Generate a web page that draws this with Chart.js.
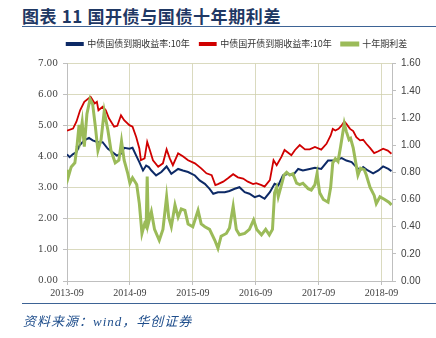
<!DOCTYPE html>
<html><head><meta charset="utf-8">
<script src="https://cdn.jsdelivr.net/npm/chart.js@4.4.1/dist/chart.umd.min.js"></script>
<style>
html,body{margin:0;padding:0;background:#fff;width:436px;height:338px;overflow:hidden;position:relative}
#title{position:absolute;left:22px;top:3px;font:bold 17px "Noto Sans CJK SC",sans-serif;color:#1f3864;white-space:nowrap;letter-spacing:0.6px}
#tline{position:absolute;left:22px;right:0;top:26px;border-top:1.5px solid #3d6395}
#fline{position:absolute;left:22px;right:0;top:303px;border-top:1.5px solid #3d6395}
#src{position:absolute;left:23px;top:311px;font:italic 13px "Liberation Serif","Noto Sans CJK SC",serif;color:#1f4e8c;white-space:nowrap;letter-spacing:1px}
canvas{position:absolute;left:0;top:0}
</style></head>
<body>
<div id="title">图表 11 国开债与国债十年期利差</div>
<div id="tline"></div>
<canvas id="c" width="436" height="338"></canvas>
<div id="fline"></div>
<div id="src">资料来源：wind，华创证券</div>
<script>
// x values: months after 2013-09
const seriesNames = ['中债国债到期收益率:10年', '中债国开债到期收益率:10年', '十年期利差'];
const tickMonths = [0, 12, 24, 36, 48, 60];
const tickLabels = ['2013-09', '2014-09', '2015-09', '2016-09', '2017-09', '2018-09'];

const cgbMonths = [0,0.5,1.1,1.8,2.4,3.3,4.2,4.9,5.9,6.8,7.8,8.7,9.5,10.3,10.9,11.9,12.5,13.2,13.8,14.5,15.1,15.6,16.1,17.0,18.0,19.0,19.9,21.2,22.1,23.1,24.4,25.3,26.3,27.2,27.9,28.8,30.1,31.0,32.0,32.9,33.9,34.8,35.8,36.7,37.7,38.7,39.6,40.3,41.2,42.2,43.1,44.1,45.0,46.3,47.3,48.5,49.8,51.1,52.4,53.3,54.3,55.2,55.9,56.5,57.4,58.4,59.4,60.3,61.3,61.9];
const cgbValues = [4.08,3.99,4.08,4.15,4.37,4.53,4.61,4.53,4.47,4.47,4.26,4.15,4.04,4.10,4.29,4.26,4.29,4.04,3.83,3.56,3.72,3.67,3.56,3.40,3.51,3.69,3.45,3.61,3.56,3.51,3.40,3.24,3.13,2.97,2.81,2.86,2.86,2.90,2.97,3.02,2.86,2.81,2.70,2.75,2.65,2.86,3.13,3.08,3.40,3.45,3.40,3.61,3.56,3.61,3.65,3.61,3.88,3.88,3.96,3.88,3.83,3.67,3.56,3.67,3.56,3.47,3.56,3.69,3.61,3.54];

const cdbMonths = [0,1.15,1.8,2.5,3.3,4.5,5.3,5.7,6.0,6.8,7.4,8.0,9.0,9.6,10.3,10.9,11.9,12.5,13.2,13.8,14.1,14.8,15.3,15.8,16.4,17.4,18.3,19.0,19.6,20.2,21.2,22.1,23.1,24.4,25.6,26.6,27.6,28.3,28.8,29.8,30.7,31.7,32.6,33.6,34.5,35.5,36.1,37.1,37.7,38.7,39.4,40.0,40.9,41.5,42.2,42.8,43.5,44.4,45.4,46.3,47.3,48.5,49.5,50.3,50.7,51.2,51.8,52.4,52.9,53.3,54.0,54.6,55.2,55.9,56.5,57.1,57.8,58.6,59.4,60.3,61.2,61.9];
const cdbValues = [4.84,4.91,5.13,5.50,5.77,5.93,5.72,5.77,5.50,5.61,5.50,5.24,4.97,5.00,5.34,5.18,5.02,4.97,4.64,4.27,3.89,3.95,4.48,4.22,3.89,3.68,3.79,4.24,3.95,3.73,4.11,4.02,3.89,3.79,3.63,3.47,3.41,3.09,3.12,3.20,3.31,3.44,3.34,3.30,3.20,3.12,3.15,3.09,3.04,3.25,3.89,3.73,4.00,4.22,4.13,4.05,4.22,4.38,4.24,4.24,4.32,4.23,4.42,4.69,4.90,4.85,4.90,5.01,5.14,5.06,4.90,4.83,4.63,4.53,4.55,4.42,4.29,4.12,4.18,4.26,4.20,4.10];

const spreadMonths = [0,0.2,0.8,1.5,1.9,2.3,2.5,2.9,3.3,3.8,4.4,4.9,5.4,5.9,6.5,7.1,7.8,8.4,9.2,9.9,10.4,10.9,11.6,12.0,12.5,13.3,13.8,14.3,14.8,15.1,15.3,15.5,16.1,16.7,17.6,18.3,19.0,19.4,19.9,20.6,21.2,21.8,22.5,23.1,24.0,25.0,25.6,26.3,27.2,28.2,28.8,29.4,30.4,31.0,31.7,32.3,32.9,33.9,34.8,35.6,36.2,37.1,37.9,38.6,39.2,39.6,40.0,40.3,41.0,41.4,41.9,42.5,43.1,43.8,44.4,45.0,46.0,46.6,47.3,47.7,48.2,48.9,49.8,50.3,50.7,51.2,51.7,52.2,52.9,53.3,53.8,54.1,54.6,55.0,55.5,56.0,56.7,57.1,57.8,58.6,59.0,59.7,60.6,61.4,61.9];
const spreadValues = [0.82,0.76,0.84,0.87,0.99,1.15,1.06,1.17,0.99,1.23,1.34,1.30,1.14,0.96,1.04,1.25,1.11,0.96,0.87,0.89,1.03,0.89,0.79,0.72,0.76,0.71,0.57,0.35,0.42,0.40,0.77,0.42,0.51,0.38,0.30,0.38,0.62,0.47,0.40,0.56,0.47,0.53,0.52,0.42,0.40,0.52,0.42,0.40,0.38,0.30,0.24,0.33,0.35,0.39,0.55,0.38,0.34,0.35,0.38,0.45,0.38,0.34,0.38,0.34,0.38,0.65,0.69,0.62,0.72,0.78,0.80,0.78,0.79,0.72,0.71,0.72,0.68,0.67,0.71,0.79,0.65,0.60,0.58,0.69,0.87,0.90,0.88,0.99,1.16,1.10,1.04,1.05,0.98,0.89,0.78,0.83,0.82,0.78,0.69,0.63,0.57,0.62,0.60,0.58,0.56];

const pts = (xs, ys) => xs.map((x, i) => ({x: x, y: ys[i]}));
const gridDots = 'rgba(205,205,170,0.75)';

new Chart(document.getElementById('c'), {
  type: 'line',
  data: {
    datasets: [
      {label: seriesNames[0], data: pts(cgbMonths, cgbValues), yAxisID: 'y', borderColor: '#0d2a66', backgroundColor: '#0d2a66', borderWidth: 2, order: 2},
      {label: seriesNames[1], data: pts(cdbMonths, cdbValues), yAxisID: 'y', borderColor: '#d00000', backgroundColor: '#d00000', borderWidth: 1.8, order: 1},
      {label: seriesNames[2], data: pts(spreadMonths, spreadValues), yAxisID: 'y1', borderColor: '#9bbb59', backgroundColor: '#9bbb59', borderWidth: 3, order: 0}
    ]
  },
  options: {
    responsive: false, animation: false, devicePixelRatio: 1,
    elements: {point: {radius: 0}, line: {tension: 0}},
    layout: {padding: {left: 38, right: 0, top: 29.5, bottom: 0}},
    plugins: {
      legend: {
        position: 'top',
        labels: {
          boxWidth: 16, boxHeight: 2, padding: 10, color: '#333',
          font: {family: '"Noto Sans CJK SC", sans-serif', size: 9},
          sort: (a, b) => a.datasetIndex - b.datasetIndex
        }
      },
      subtitle: {display: true, text: ' ', font: {size: 1}, padding: {top: 0, bottom: 4}, weight: 500},
      tooltip: {enabled: false}
    },
    scales: {
      x: {
        type: 'linear', min: 0, max: 62,
        afterBuildTicks: (s) => { s.ticks = tickMonths.map(v => ({value: v})); },
        afterFit: (s) => { s.height = 57; },
        ticks: {
          callback: (v) => tickLabels[tickMonths.indexOf(v)],
          font: {family: '"Liberation Serif", serif', size: 10}, color: '#404040',
          padding: 2, maxRotation: 0, autoSkip: false
        },
        grid: {color: gridDots, borderDash: [1, 2], tickLength: 4, tickColor: '#bfbfbf', tickBorderDash: []},
        border: {color: '#bfbfbf', width: 1}
      },
      y: {
        position: 'left', min: 0, max: 7,
        afterFit: (s) => { s.width = 29; },
        ticks: {stepSize: 1, callback: (v) => v.toFixed(2), font: {family: '"DejaVu Serif", serif', size: 9}, color: '#404040', padding: 5},
        grid: {color: (c) => c.tick && c.tick.value === 0 ? 'rgba(0,0,0,0)' : gridDots, borderDash: [1, 2], tickLength: 4, tickColor: '#bfbfbf', tickBorderDash: []},
        border: {color: '#bfbfbf', width: 1}
      },
      y1: {
        position: 'right', min: 0, max: 1.6,
        afterFit: (s) => { s.width = 44; },
        ticks: {stepSize: 0.2, callback: (v) => v.toFixed(2), font: {family: '"Liberation Sans", sans-serif', size: 10}, color: '#404040', padding: 5},
        grid: {drawOnChartArea: false, tickLength: 4, tickColor: '#bfbfbf'},
        border: {color: '#bfbfbf', width: 1}
      }
    }
  }
});
</script>
</body></html>
